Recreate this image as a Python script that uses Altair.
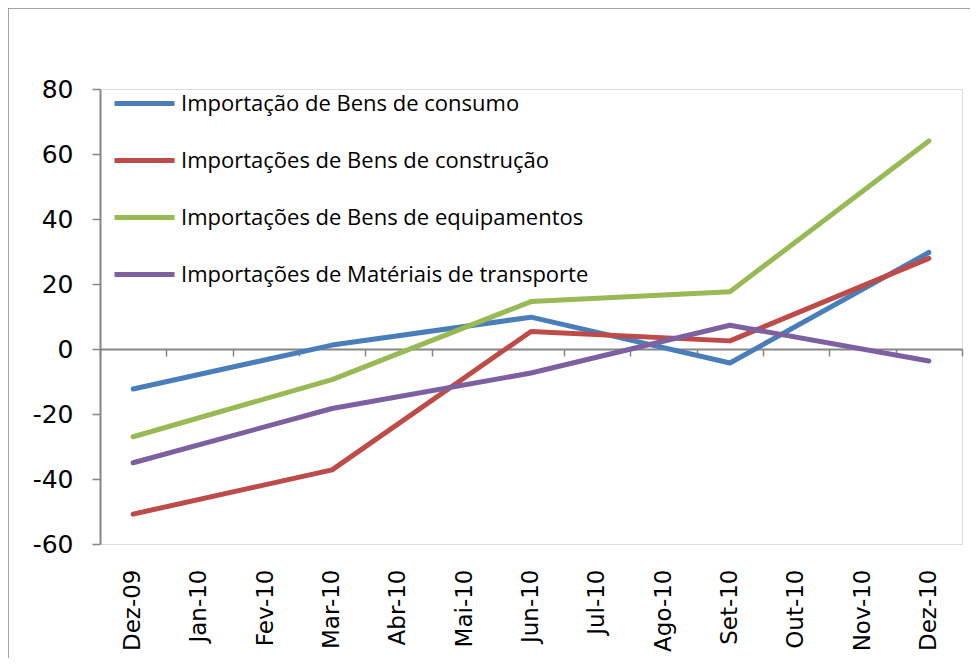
import altair as alt
import pandas as pd

# ---- data ----
months = ["Dez-09", "Jan-10", "Fev-10", "Mar-10", "Abr-10", "Mai-10", "Jun-10",
          "Jul-10", "Ago-10", "Set-10", "Out-10", "Nov-10", "Dez-10"]
obs_months = ["Dez-09", "Mar-10", "Jun-10", "Set-10", "Dez-10"]

series_names = [
    "Importação de Bens de consumo",
    "Importações de Bens de construção",
    "Importações de Bens de equipamentos",
    "Importações de Matériais de transporte",
]
consumo = [-12.3, 1.2, 9.8, -4.3, 29.7]
construcao = [-50.8, -37.2, 5.4, 2.5, 27.9]
equipamentos = [-27.0, -9.4, 14.6, 17.6, 64.0]
transporte = [-35.0, -18.3, -7.4, 7.3, -3.7]
colors = ["#4a7ebb", "#be4b48", "#98b954", "#7d60a0"]
y_ticks = [-60, -40, -20, 0, 20, 40, 60, 80]

rows = []
for name, vals in zip(series_names, [consumo, construcao, equipamentos, transporte]):
    for m, v in zip(obs_months, vals):
        rows.append({"mes": m, "valor": v, "serie": name})
df = pd.DataFrame(rows)

W, H = 862, 455
GRAY = "#868686"

xscale = alt.Scale(type="band", domain=months, paddingInner=0, paddingOuter=0)
yscale = alt.Scale(domain=[-60, 80], nice=False, zero=False)

border = alt.Chart(pd.DataFrame({"a": [0]})).mark_rect(
    fill=None, stroke=GRAY, strokeWidth=1.5
).encode(
    x=alt.value(-92), x2=alt.value(900), y=alt.value(-81), y2=alt.value(700)
)

lines = alt.Chart(df).mark_line(strokeWidth=5, strokeCap="round", strokeJoin="round").encode(
    x=alt.X("mes:N", scale=xscale, sort=months, bandPosition=0.5, title=None,
            axis=alt.Axis(orient="bottom", domain=False, ticks=False, labelAngle=-90,
                          labelPadding=25, labelFont="Verdana, DejaVu Sans", labelFontSize=23,
                          labelColor="black", grid=False)),
    y=alt.Y("valor:Q", scale=yscale, title=None,
            axis=alt.Axis(values=y_ticks, grid=False, domainColor=GRAY, domainWidth=2,
                          tickColor=GRAY, tickWidth=1.5, tickSize=8, labelPadding=19,
                          labelExpr="'' + datum.value",
                          labelFont="Verdana, DejaVu Sans", labelFontSize=25, labelColor="black")),
    color=alt.Color("serie:N", sort=series_names,
                    scale=alt.Scale(domain=series_names, range=colors),
                    legend=alt.Legend(orient="none", legendX=12, legendY=-18, title=None,
                                      symbolType="stroke", symbolSize=3600,
                                      symbolStrokeWidth=5, labelFontSize=22,
                                      labelFont="Open Sans", labelColor="black",
                                      labelLimit=0, labelOffset=4, rowPadding=13,
                                      padding=0)),
    detail="serie:N",
)

zero_axis = alt.Chart(df).mark_point(opacity=0).encode(
    x=alt.X("mes:N", scale=xscale, sort=months, title=None,
            axis=alt.Axis(orient="bottom", offset=-195, labels=False, domainColor=GRAY,
                          domainWidth=2, tickColor=GRAY, tickWidth=1.5, tickSize=7,
                          tickBand="extent", grid=False)),
)

chart = alt.layer(border, zero_axis, lines).resolve_axis(x="independent").properties(
    width=W, height=H,
    autosize=alt.AutoSizeParams(type="none"),
    padding={"left": 92, "top": 81, "right": 8, "bottom": 114},
).configure_view(fill="#fdf2e8", stroke=None).configure(background="white")

chart.save("out.html", embed_options={"renderer": "svg", "actions": False})
